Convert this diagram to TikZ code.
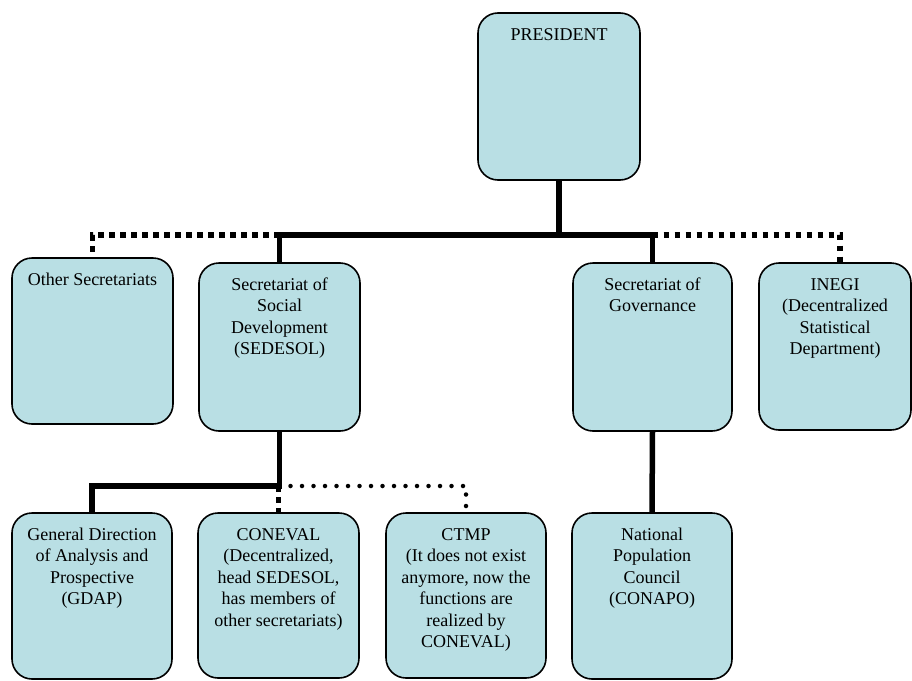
\documentclass[tikz,border=0pt]{standalone}
\usepackage{fontspec}
\setmainfont{Liberation Serif}
\newfontfamily\orgfont{Liberation Serif}
\usepackage{xcolor}
\usepackage{tikz}
\usetikzlibrary{positioning}
\definecolor{orgblue}{RGB}{185,223,228}

% text of a box, set from the top
\newcommand{\orgtext}[3]{\parbox[t][#2][t]{#1}{\centering\rule{0pt}{27pt}#3}}

\tikzset{
  orgbox/.style={draw, line width=1.6pt, fill=orgblue, rounded corners=20pt,
    inner sep=0pt, outer sep=0pt, font=\orgfont\fontsize{18}{21.5}\selectfont},
  trunk/.style={line width=5.5pt, line join=miter},
  squaredots/.style={line width=5.5pt, dash pattern=on 5.5pt off 5.5pt},
  rounddots/.style={line width=4.5pt, line cap=round, dash pattern=on 0pt off 11.5pt}
}

\begin{document}
\begin{tikzpicture}[x=1pt, y=-1pt]
                \path[use as bounding box] (0,0) rectangle (912,680);

                % top level
                \node[orgbox] (pres) at (559,96.5) {\orgtext{162pt}{167pt}{PRESIDENT}};

                % secretariats
                \node[orgbox] (other) at (92.5,341) {\orgtext{161pt}{166pt}{Other Secretariats}};
                \node[orgbox] (sedesol) at (279.5,347) {\orgtext{161pt}{168pt}{Secretariat of\\ Social\\ Development\\ (SEDESOL)}};
                \node[orgbox] (gov) at (652.5,347) {\orgtext{159pt}{168pt}{Secretariat of\\ Governance}};
                \node[orgbox] (inegi) at (835,346.5) {\orgtext{152pt}{167pt}{INEGI\\ (Decentralized\\ Statistical\\ Department)}};

                % bottom level
                \node[orgbox] (gdap) at (92,596) {\orgtext{160pt}{166pt}{General Direction\\ of Analysis and\\ Prospective\\ (GDAP)}};
                \node[orgbox] (coneval) at (278.5,595.5) {\orgtext{161pt}{165pt}{CONEVAL\\ (Decentralized,\\ head SEDESOL,\\ has members of\\ other secretariats)}};
                \node[orgbox] (ctmp) at (466,595.5) {\orgtext{160pt}{165pt}{CTMP\\ (It does not exist\\ anymore, now the\\ functions are\\ realized by\\ CONEVAL)}};
                \node[orgbox] (conapo) at (652,596) {\orgtext{160pt}{166pt}{National\\ Population\\ Council\\ (CONAPO)}};

                % connectors
                \coordinate (hub) at ([yshift=-55pt]pres.south);
                \coordinate (sub) at ([yshift=-55pt]sedesol.south);
                \draw[squaredots] (hub -| sedesol.north) -| (other.north);
                \draw[squaredots] (hub -| gov.north) -| ([xshift=5pt]inegi.north);
                \draw[trunk] (pres.south) -- (hub) -| (sedesol.north);
                \draw[trunk] (hub) -| (gov.north);
                \draw[trunk] (gov.south) -- (conapo.north);

                \draw[rounddots] ([xshift=11pt]sub) -| (ctmp.north);
                \draw[squaredots] (coneval.north |- sub) -- (coneval.north);
                \draw[trunk] (sedesol.south) -- (sub) -| (gdap.north);
\end{tikzpicture}
\end{document}
